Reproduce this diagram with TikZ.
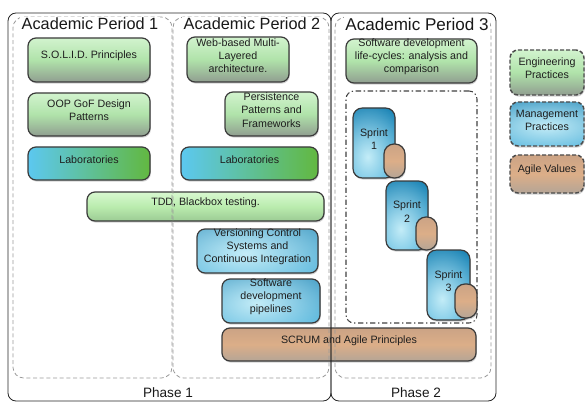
\documentclass[tikz,border=0pt]{standalone}
\usepackage{fontspec}
\setmainfont{Liberation Sans}
\usetikzlibrary{fit,shadows,calc,fadings}
\definecolor{boxline}{HTML}{3A3A3A}
\definecolor{txt}{HTML}{1E1E1E}
\definecolor{gA}{HTML}{D2F3CE}
\definecolor{gB}{HTML}{B0E3AA}
\definecolor{gC}{HTML}{909E90}
\definecolor{tA}{HTML}{D8F8D0}
\definecolor{tB}{HTML}{BAECAE}
\definecolor{tC}{HTML}{9CCB94}
\definecolor{lbL}{HTML}{5CC8F0}
\definecolor{lbR}{HTML}{62B840}
\definecolor{mbTop}{HTML}{1C84B5}
\definecolor{mbBot}{HTML}{2CA2D4}
\definecolor{hl}{HTML}{C4EDF8}
\definecolor{oA}{HTML}{CBA385}
\definecolor{oB}{HTML}{DCAE88}
\definecolor{oC}{HTML}{B5A596}
\tikzfading[name=glow, inner color=transparent!0, outer color=transparent!100]
\tikzset{
  base/.style={draw=boxline, line width=0.9pt, rounded corners=6pt,
    font=\fontsize{8}{9.8}\selectfont, text=txt, align=center, inner sep=0pt,
    drop shadow={shadow xshift=0.6pt, shadow yshift=-1.2pt, opacity=0.35}},
  eng/.style={base, top color=gA, bottom color=gC, middle color=gB},
  tdd/.style={base, top color=tA, bottom color=tC, middle color=tB},
  lab/.style={base, left color=lbL, right color=lbR},
  mgmt/.style n args={4}{base, path picture={
      \shade[top color=mbTop, bottom color=mbBot]
        (path picture bounding box.south west) rectangle (path picture bounding box.north east);
      \fill[hl, path fading=glow] let \p1=(path picture bounding box.south west),
        \p2=(path picture bounding box.north east), \n1={\x2-\x1}, \n2={\y2-\y1} in
        ({\x1+(#1-2*#3)*\n1}, {\y1+(#2-2*#4)*\n2}) rectangle ({\x1+(#1+2*#3)*\n1}, {\y1+(#2+2*#4)*\n2});
    }},
  agile/.style={base, top color=oA, bottom color=oC, middle color=oB},
  pill/.style={agile, rounded corners=7.5pt},
  legendbox/.style={draw=black!70, line width=1.1pt, dash pattern=on 3pt off 1.5pt},
  phasebox/.style={draw=black!85, line width=0.6pt, rounded corners=6pt, inner sep=0pt},
  periodbox/.style={draw=gray!80, line width=0.6pt, dash pattern=on 3pt off 2pt, rounded corners=8pt, inner sep=0pt},
  sprintarea/.style={draw=black!75, line width=0.8pt, dash pattern=on 4pt off 2pt on 1pt off 2pt, rounded corners=6pt, inner sep=0pt},
  sprintbox/.style={mgmt={0.35}{0.3}{0.5}{0.4}, rounded corners=7pt},
  title/.style={fill=white, inner sep=1pt, text=black!90},
  phaselabel/.style={font=\fontsize{10.2}{12}\selectfont, text=black!90}
}
\begin{document}
\begin{tikzpicture}[x=0.75pt, y=-0.75pt]
\useasboundingbox (0,0) rectangle (586,403);

% sprint container
\node[sprintarea, fit={(346,91)(477,323)}] (sprints) {};

% Period 1 boxes
\node[eng, fit={(28,38)(150,82)}] (solid) {S.O.L.I.D. Principles};
\node[eng, fit={(28,93)(150,136)}] (oop) {OOP GoF Design\\Patterns};
\node[lab, fit={(28,147)(150,180)}] (lab1) {Laboratories};

% Period 2 boxes
\node[eng, fit={(187,37)(289,82)}] (web) {Web-based Multi-\\Layered\\architecture.};
\node[eng, fit={(225,92)(318,136)}] (pers) {Persistence\\Patterns and\\Frameworks};
\node[lab, fit={(181,147)(318,180)}] (lab2) {Laboratories};
\node[tdd, fit={(87,192)(324,221)}] (tdd) {TDD, Blackbox testing.};
\node[mgmt={0.4}{0.45}{0.55}{0.7}, fit={(197,229)(318,273)}] (vcs) {Versioning Control\\Systems and\\Continuous Integration};
\node[mgmt={0.35}{0.45}{0.55}{0.65}, fit={(222,279)(320,323)}] (pipe) {Software\\development\\pipelines};
\node[agile, fit={(222,328)(476,361)}] (scrum) {SCRUM and Agile Principles};

% Period 3 boxes
\node[eng, fit={(346,39)(477,83)}] (sdlc) {Software development\\life-cycles: analysis and\\comparison};

\node[sprintbox, fit={(353,108)(395,178)}] (s1) {Sprint\\1};
\node[pill, fit={(384,144)(405,178)}] (v1) {};
\node[sprintbox, fit={(386,181)(428,250)}] (s2) {Sprint\\2};
\node[pill, fit={(416,217)(437,250)}] (v2) {};
\node[sprintbox, fit={(427,250)(470,320)}] (s3) {Sprint\\3};
\node[pill, fit={(455,284)(477,318)}] (v3) {};

% Legend
\node[eng, legendbox, fit={(510,50)(584,95)}] (legEng) {Engineering\\Practices};
\node[mgmt={0.5}{0.45}{0.7}{0.45}, legendbox, fit={(510,102)(584,146)}] (legMgmt) {Management\\Practices};
\node[agile, legendbox, fit={(510,155)(584,193)}] (legAgile) {Agile Values};

% Containers
\node[periodbox, fit={(13,17)(172,378)}] (p1) {};
\node[periodbox, fit={(173,17)(329,378)}] (p2) {};
\node[periodbox, fit={(335,17)(491,378)}] (p3) {};
\node[phasebox, fit={(8,13)(331,401)}] (ph1) {};
\node[phasebox, fit={(331,13)(496,401)}] (ph2) {};

% Titles
\node[title, font=\fontsize{12.2}{14}\selectfont] (t1) at (90,24) {Academic Period 1};
\node[title, font=\fontsize{12.2}{14}\selectfont] (t2) at (252,24) {Academic Period 2};
\node[title, font=\fontsize{12.8}{14}\selectfont] (t3) at (417,24) {Academic Period 3};

\node[phaselabel] (l1) at (168,393) {Phase 1};
\node[phaselabel] (l2) at (416,393) {Phase 2};
\end{tikzpicture}
\end{document}
